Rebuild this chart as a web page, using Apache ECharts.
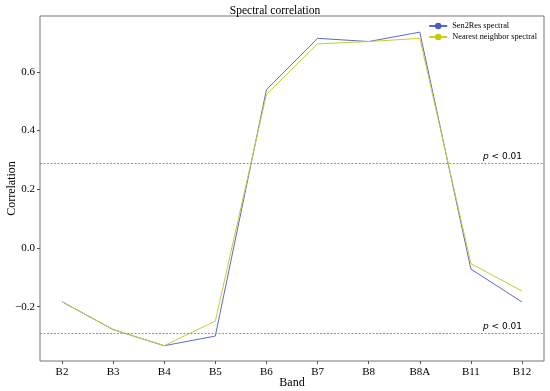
<!DOCTYPE html>
<html><head><meta charset="utf-8">
<script src="https://cdn.jsdelivr.net/npm/echarts@6/dist/echarts.min.js"></script>
<style>html,body{margin:0;padding:0;background:#fff}#c{width:550px;height:391px}</style>
</head><body><div id="c"></div>
<script>
const bands = ['B2','B3','B4','B5','B6','B7','B8','B8A','B11','B12'];
const sen2res = [-0.183,-0.278,-0.333,-0.300,0.539,0.714,0.703,0.735,-0.072,-0.184];
const nearest = [-0.183,-0.278,-0.333,-0.249,0.523,0.695,0.703,0.714,-0.053,-0.147];
const yTicks = [-0.2,0.0,0.2,0.4,0.6];
const pThreshold = [0.290,-0.292];
const FONT = '"Liberation Serif","DejaVu Serif",serif';
const idx = bands.map((b,i)=>i);
const chart = echarts.init(document.getElementById('c'));
chart.setOption({
  animation:false,
  title:{text:'Spectral correlation',left:'center',top:0,textStyle:{fontFamily:FONT,fontSize:11.5,fontWeight:'normal',color:'#000'}},
  grid:{left:40,right:6,top:16,bottom:30,outerBoundsMode:'none',containLabel:false,show:true,borderColor:'#777',borderWidth:1,backgroundColor:'transparent'},
  legend:{right:8,top:17,orient:'vertical',itemGap:3,itemWidth:18,itemHeight:8,
    textStyle:{fontFamily:FONT,fontSize:8.3,color:'#000'},
    data:['Sen2Res spectral','Nearest neighbor spectral']},
  xAxis:{type:'value',min:-0.43,max:9.43,name:'Band',nameLocation:'middle',nameGap:16,nameMoveOverlap:false,
    nameTextStyle:{fontFamily:FONT,fontSize:12,color:'#000'},
    axisLine:{show:false,onZero:false},splitLine:{show:false},
    axisTick:{show:true,customValues:idx,length:3,lineStyle:{color:'#555'}},
    axisLabel:{customValues:idx,formatter:v=>bands[Math.round(v)],fontFamily:FONT,fontSize:11,color:'#000',margin:6}},
  yAxis:{type:'value',min:-0.385,max:0.79,name:'Correlation',nameLocation:'middle',nameGap:22,nameMoveOverlap:false,
    nameTextStyle:{fontFamily:FONT,fontSize:12,color:'#000'},
    axisLine:{show:false,onZero:false},splitLine:{show:false},
    axisTick:{show:true,customValues:yTicks,length:3,lineStyle:{color:'#555'}},
    axisLabel:{customValues:yTicks,formatter:v=>(v<0?'\u2212':'')+Math.abs(v).toFixed(1),fontFamily:FONT,fontSize:11,color:'#000',margin:5}},
  series:[
    {name:'Sen2Res spectral',type:'line',data:idx.map(i=>[i,sen2res[i]]),symbol:'circle',symbolSize:7,showSymbol:false,
     itemStyle:{color:'#4a5cc4'},lineStyle:{color:'#5a6acc',width:1},
     markLine:{silent:true,symbol:'none',lineStyle:{color:'#b8904a',type:[2,1.5],width:1},
       label:{show:true,position:'insideEndTop',formatter:'{i|p} < 0.01',fontFamily:'"DejaVu Sans",sans-serif',fontSize:9,color:'#000',distance:[22,2],
         rich:{i:{fontStyle:'italic',fontFamily:'"DejaVu Sans",sans-serif',fontSize:9,color:'#000'}}},
       data:pThreshold.map(v=>({yAxis:v}))}},
    {name:'Nearest neighbor spectral',type:'line',data:idx.map(i=>[i,nearest[i]]),symbol:'circle',symbolSize:7,showSymbol:false,
     itemStyle:{color:'#c8c800'},lineStyle:{color:'#c8cc30',width:1}}
  ]
});
</script></body></html>
